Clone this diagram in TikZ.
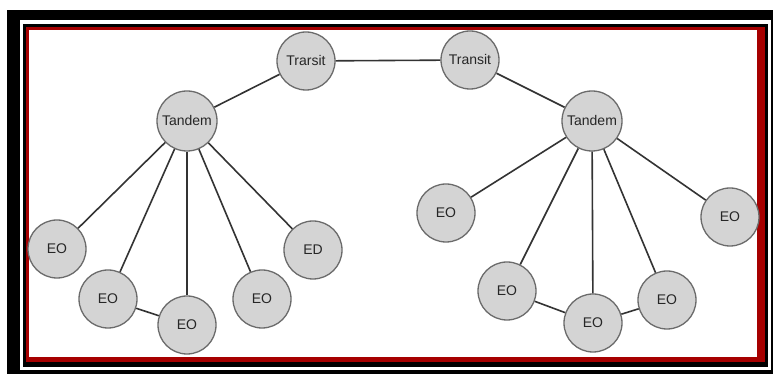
\documentclass[tikz,border=0pt]{standalone}
\usepackage{fontspec}
\setmainfont{Liberation Sans}
\begin{document}
\begin{tikzpicture}[x=1pt,y=1pt,
  site/.style={circle, draw=black!58, line width=1.3pt, fill=black!17,
    minimum size=58pt, inner sep=0pt, font=\fontsize{14}{14}\selectfont, text=black!85},
  link/.style={draw=black!80, line width=1.6pt}]
\useasboundingbox (0,0) rectangle (773,374);
\fill[white] (0,0) rectangle (773,374);
% framed border: heavy black, white gap, thin black, dark red, white panel
\fill[black] (7,0) rectangle (773,364);
\fill[white] (20,4) rectangle (771,354);
\fill[black] (23,7) rectangle (768,350);
\fill[red!65!black] (26,12) rectangle (765,347);
\fill[white] (29,17) rectangle (757,344);

% nodes
\node[site] (TL) at (306,313) {Trarsit};
\node[site] (TR) at (470,314) {Transit};
\node[site, minimum size=60pt] (DL) at (187,253) {Tandem};
\node[site, minimum size=60pt] (DR) at (592,253) {Tandem};
\node[site] (L1) at (57,125) {EO};
\node[site] (L2) at (108,75) {EO};
\node[site] (L3) at (187,49) {EO};
\node[site] (L4) at (262,75) {EO};
\node[site] (L5) at (313,124) {ED};
\node[site] (R1) at (446,161) {EO};
\node[site] (R2) at (507,83) {EO};
\node[site] (R3) at (593,51) {EO};
\node[site] (R4) at (667,74) {EO};
\node[site] (R5) at (730,157) {EO};

% connectors
\draw[link] (TL) -- (TR);
\draw[link] (TL) -- (DL);
\draw[link] (TR) -- (DR);
\foreach \e in {L1,L2,L3,L4,L5} \draw[link] (DL) -- (\e);
\foreach \e in {R1,R2,R3,R4,R5} \draw[link] (DR) -- (\e);
\draw[link] (L2) -- (L3);
\draw[link] (R2) -- (R3);
\draw[link] (R3) -- (R4);
\end{tikzpicture}
\end{document}
